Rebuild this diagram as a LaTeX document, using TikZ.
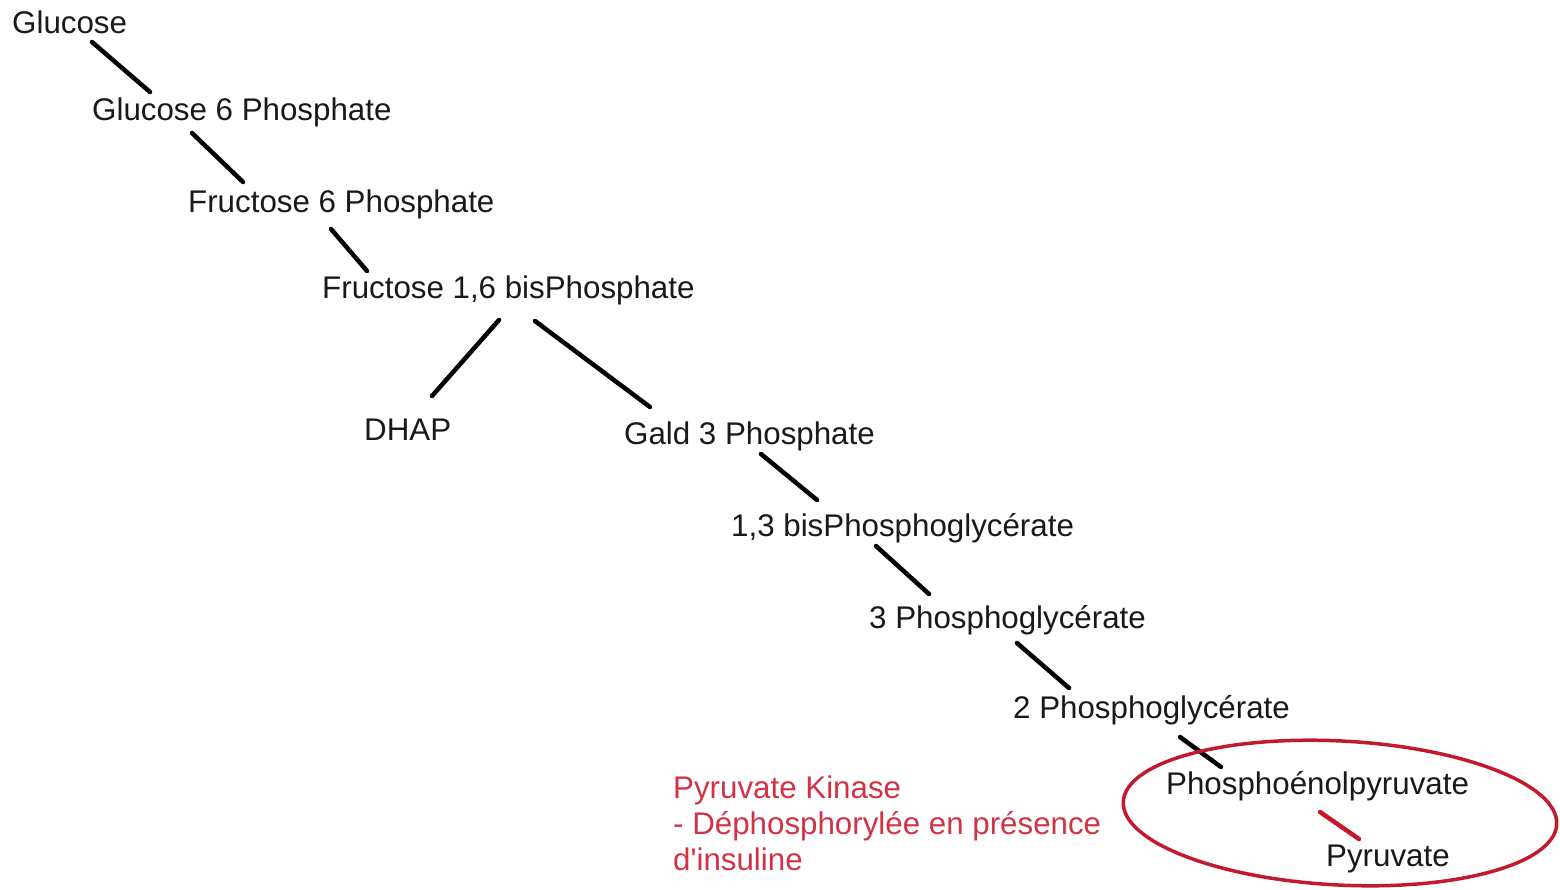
\documentclass[tikz,border=0pt]{standalone}
\usepackage{fontspec}
% plain family: keeps the straight apostrophe of the source text
\newfontfamily\arialish{Liberation Sans}
\definecolor{ink}{RGB}{25,25,25}
\definecolor{pkred}{RGB}{210,50,70}
\definecolor{ringred}{RGB}{195,25,45}
\begin{document}
\begin{tikzpicture}[x=1pt,y=-1pt,
  met/.style={anchor=base west,inner sep=0pt,text=ink,font=\arialish\fontsize{31.3pt}{36pt}\selectfont},
  note/.style={anchor=base west,inner sep=0pt,text=pkred,font=\arialish\fontsize{31.3pt}{36pt}\selectfont},
  link/.style={draw=black,line width=4.5pt,line cap=round},
  redlink/.style={draw=ringred,line width=4.5pt,line cap=round}]
\useasboundingbox (0,0) rectangle (1560,889);
\fill[white] (0,0) rectangle (1560,889);

% metabolites of glycolysis
\node[met] (glc)  at (12,33)    {Glucose};
\node[met] (g6p)  at (92,120)   {Glucose 6 Phosphate};
\node[met] (f6p)  at (188,212)  {Fructose 6 Phosphate};
\node[met] (f16)  at (322,298)  {Fructose 1,6 bisPhosphate};
\node[met] (dhap) at (364,440)  {DHAP};
\node[met] (gald) at (624,444)  {Gald 3 Phosphate};
\node[met] (bpg)  at (731,536)  {1,3 bisPhosphoglycérate};
\node[met] (pg3)  at (869,628)  {3 Phosphoglycérate};
\node[met] (pg2)  at (1013,718) {2 Phosphoglycérate};
\node[met] (pep)  at (1166,794) {Phosphoénolpyruvate};
\node[met] (pyr)  at (1326,866) {Pyruvate};

% enzyme note
\node[note] (pk1) at (673,798) {Pyruvate Kinase};
\node[note] (pk2) at (673,834) {- Déphosphorylée en présence};
\node[note] (pk3) at (673,870) {d'insuline};

% reaction steps
\draw[link] ([shift={(80,9)}]glc.base west)   -- ([shift={(58,-28)}]g6p.base west);
\draw[link] ([shift={(100,13)}]g6p.base west) -- ([shift={(55,-30)}]f6p.base west);
\draw[link] ([shift={(143,17)}]f6p.base west) -- ([shift={(45,-27)}]f16.base west);
\draw[link] ([shift={(177,22)}]f16.base west) -- ([shift={(68,-44)}]dhap.base west);
\draw[link] ([shift={(213,23)}]f16.base west) -- ([shift={(26,-37)}]gald.base west);
\draw[link] ([shift={(137,10)}]gald.base west) -- ([shift={(86,-36)}]bpg.base west);
\draw[link] ([shift={(145,10)}]bpg.base west) -- ([shift={(60,-34)}]pg3.base west);
\draw[link] ([shift={(148,15)}]pg3.base west) -- ([shift={(56,-30)}]pg2.base west);
\draw[link] ([shift={(167,19)}]pg2.base west) -- ([shift={(55,-27)}]pep.base west);
\draw[redlink] ([shift={(154,18)}]pep.base west) -- ([shift={(33,-27)}]pyr.base west);

% highlighted last step
\draw[ringred,line width=3.5pt,rotate around={-3:(1340,813)}] (1340,813) ellipse [x radius=217, y radius=72];
\end{tikzpicture}
\end{document}
